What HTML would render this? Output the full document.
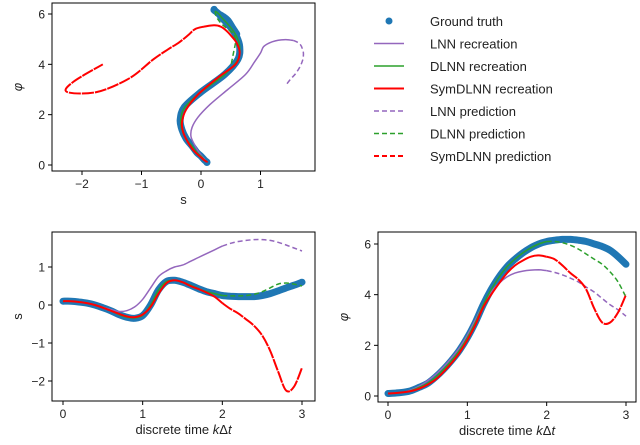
<!DOCTYPE html>
<html><head><meta charset="utf-8"><style>
body{margin:0;background:#fff;}
svg{display:block;font-family:"Liberation Sans","DejaVu Sans",sans-serif;}
</style></head><body>
<svg id="c" width="640" height="445" viewBox="0 0 640 445" xmlns="http://www.w3.org/2000/svg"></svg>
<script>
const t=[0,0.1,0.2,0.3,0.4,0.5,0.6,0.7,0.8,0.9,1.0,1.1,1.2,1.3,1.4,1.5,1.6,1.7,1.8,1.9,2.0,2.1,2.2,2.3,2.4,2.5,2.6,2.7,2.8,2.9,3.0];
const truthS=[0.1,0.1,0.08,0.05,0,-0.07,-0.15,-0.25,-0.32,-0.35,-0.28,0.0,0.4,0.62,0.65,0.6,0.52,0.43,0.35,0.3,0.25,0.23,0.22,0.22,0.22,0.25,0.3,0.37,0.45,0.52,0.6];
const truthPhi=[0.1,0.12,0.15,0.22,0.35,0.5,0.75,1.05,1.4,1.8,2.3,2.9,3.6,4.2,4.7,5.1,5.4,5.65,5.85,6.0,6.1,6.15,6.18,6.18,6.15,6.1,6.0,5.9,5.75,5.5,5.2];
const lnnS=[0.1,0.1,0.08,0.05,0,-0.06,-0.12,-0.17,-0.15,-0.05,0.15,0.45,0.75,0.9,1.0,1.05,1.15,1.25,1.35,1.45,1.55,1.62,1.67,1.7,1.72,1.72,1.7,1.65,1.58,1.5,1.42];
const lnnPhi=[0.1,0.12,0.15,0.25,0.4,0.6,0.85,1.15,1.5,1.9,2.4,3.0,3.6,4.1,4.45,4.7,4.85,4.93,4.97,4.98,4.95,4.88,4.78,4.65,4.5,4.3,4.1,3.85,3.6,3.4,3.15];
const dlnnS=[0.1,0.1,0.08,0.05,0,-0.07,-0.15,-0.25,-0.32,-0.34,-0.27,0.0,0.4,0.62,0.65,0.6,0.52,0.43,0.35,0.3,0.25,0.24,0.24,0.25,0.28,0.35,0.45,0.55,0.58,0.55,0.5];
const dlnnPhi=[0.1,0.12,0.15,0.22,0.35,0.5,0.75,1.05,1.4,1.8,2.3,2.9,3.6,4.2,4.7,5.1,5.4,5.65,5.85,6.0,6.1,6.1,6.05,5.95,5.8,5.6,5.4,5.2,4.9,4.5,3.9];
const symS=[0.1,0.1,0.08,0.05,0,-0.07,-0.15,-0.23,-0.3,-0.32,-0.25,-0.05,0.3,0.58,0.65,0.6,0.5,0.42,0.33,0.22,0.05,-0.1,-0.22,-0.38,-0.55,-0.8,-1.2,-1.75,-2.25,-2.15,-1.65];
const symPhi=[0.1,0.12,0.15,0.2,0.3,0.45,0.65,0.95,1.3,1.7,2.2,2.8,3.5,4.0,4.45,4.85,5.15,5.35,5.5,5.55,5.5,5.4,5.15,4.85,4.6,4.2,3.45,2.9,2.9,3.3,4.0];
const splitIdx=20;
const NS="http://www.w3.org/2000/svg";
const svg=document.getElementById('c');
function el(tag,attrs,parent){const e=document.createElementNS(NS,tag);for(const k in attrs)e.setAttribute(k,attrs[k]);(parent||svg).appendChild(e);return e;}
function lin(d0,d1,r0,r1){return v=>r0+(v-d0)/(d1-d0)*(r1-r0);}
function smooth(P){let d='M'+P[0][0].toFixed(1)+','+P[0][1].toFixed(1);
 for(let i=0;i<P.length-1;i++){const p0=P[Math.max(0,i-1)],p1=P[i],p2=P[i+1],p3=P[Math.min(P.length-1,i+2)];
  const c1=[p1[0]+(p2[0]-p0[0])/6,p1[1]+(p2[1]-p0[1])/6],c2=[p2[0]-(p3[0]-p1[0])/6,p2[1]-(p3[1]-p1[1])/6];
  d+=' C'+c1.map(v=>v.toFixed(1)).join(',')+' '+c2.map(v=>v.toFixed(1)).join(',')+' '+p2[0].toFixed(1)+','+p2[1].toFixed(1);}
 return d;}
const panels=[
 {name:'phase-plot',box:[52,3,315,171],x:lin(0,1,201,260.5),y:lin(0,6,165,14),xt:[-2,-1,0,1],yt:[0,2,4,6],xl:'s',yl:'φ',xs:'s',ys:'phi'},
 {name:'s-time-plot',box:[52,232,315,401],x:lin(0,3,63,302),y:lin(0,1,305,267),xt:[0,1,2,3],yt:[-2,-1,0,1],xl:'time',yl:'s',xs:'t',ys:'s'},
 {name:'phi-time-plot',box:[378,232,636,402],x:lin(0,3,388,626),y:lin(0,6,396,244),xt:[0,1,2,3],yt:[0,2,4,6],xl:'time',yl:'φ',xs:'t',ys:'phi'}
];
const series={truth:[truthS,truthPhi],lnn:[lnnS,lnnPhi],dlnn:[dlnnS,dlnnPhi],sym:[symS,symPhi]};
const colors={lnn:'#9467bd',dlnn:'#2ca02c',sym:'#ff0000'};
function getv(p,key,which){if(which==='t')return t;return which==='s'?series[key][0]:series[key][1];}
panels.forEach(p=>{
 const g=el('g',{});
 
 
 const [x0,y0,x1,y1]=p.box;
 const cp=el('clipPath',{id:'cl-'+p.name},g);el('rect',{x:x0,y:y0,width:x1-x0,height:y1-y0},cp);
 const dg=el('g',{'clip-path':'url(#cl-'+p.name+')'},g);
 function pts(key,a,b){const xs=getv(p,key,p.xs),ys=getv(p,key,p.ys);const o=[];for(let i=a;i<=b;i++)o.push([p.x(xs[i]),p.y(ys[i])]);return o;}
 const tr=el('path',{d:smooth(pts('truth',0,t.length-1)),fill:'none',stroke:'#1f77b4','stroke-width':7,'stroke-linecap':'round','stroke-linejoin':'round'},dg);
 
 
 ['lnn','dlnn','sym'].forEach(k=>{
  const r=el('path',{d:smooth(pts(k,0,splitIdx)),fill:'none',stroke:colors[k],'stroke-width':k==='sym'?2:1.5,'stroke-linejoin':'round'},dg);
  
  
  const pr=el('path',{d:smooth(pts(k,splitIdx,t.length-1)),fill:'none',stroke:colors[k],'stroke-width':k==='sym'?2:1.5,'stroke-dasharray':k==='sym'?'12,1':'5,3','stroke-linejoin':'round'},dg);
  
  
 });
 const fr=el('rect',{x:x0,y:y0,width:x1-x0,height:y1-y0,fill:'none',stroke:'#000','stroke-width':1},g);
 
 
 p.xt.forEach(v=>{const X=p.x(v);el('line',{x1:X,x2:X,y1:y1,y2:y1+4,stroke:'#000'},g);
  const tx=el('text',{x:X,y:y1+17,'font-size':12,'text-anchor':'middle',fill:'#222'},g);tx.textContent=v<0?'−'+(-v):v;
  
  });
 p.yt.forEach(v=>{const Y=p.y(v);el('line',{x1:x0-4,x2:x0,y1:Y,y2:Y,stroke:'#000'},g);
  const tx=el('text',{x:x0-7,y:Y+4.5,'font-size':12,'text-anchor':'end',fill:'#222'},g);tx.textContent=v<0?'−'+(-v):v;
  
  });
 const xl=el('text',{x:(x0+x1)/2,y:y1+33,'font-size':13,'text-anchor':'middle',fill:'#222'},g);
 if(p.xl==='s'){xl.textContent='s';}else{xl.innerHTML='discrete time <tspan font-style="italic">k</tspan>Δ<tspan font-style="italic">t</tspan>';}
 
 
 const yx=x0-30,yy=(y0+y1)/2;
 const yl=el('text',{x:yx,y:yy,'font-size':13,'text-anchor':'middle',fill:'#222',transform:'rotate(-90 '+yx+' '+yy+')','font-style':p.yl==='φ'?'italic':'normal'},g);
 yl.textContent=p.yl;
 
 
});
const legendLabels=['Ground truth','LNN recreation','DLNN recreation','SymDLNN recreation','LNN prediction','DLNN prediction','SymDLNN prediction'];
const legendKeys=['truth','lnn','dlnn','sym','lnn','dlnn','sym'];
const lg=el('g',{});


legendLabels.forEach((lab,i)=>{
 const Y=21+i*22.5;
 const e=el('g',{},lg);
 
 
 const k=legendKeys[i];
 if(k==='truth')el('circle',{cx:389,cy:Y,r:3.5,fill:'#1f77b4'},e);
 else el('line',{x1:374,x2:404,y1:Y,y2:Y,stroke:colors[k],'stroke-width':k==='sym'?2:1.5,'stroke-dasharray':i>=4?'5,3':'none'},e);
 const tx=el('text',{x:430,y:Y+5,'font-size':13,fill:'#222'},e);tx.textContent=lab;
});
</script>
</body></html>
